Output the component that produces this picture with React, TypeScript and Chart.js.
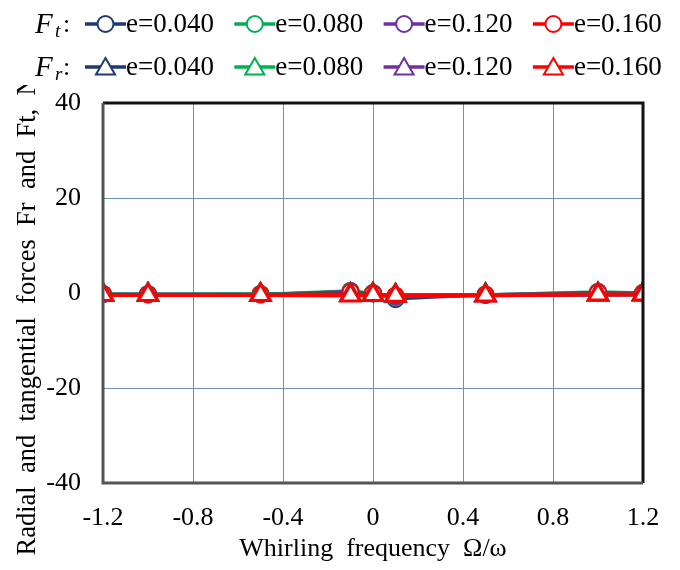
import React, { useEffect, useRef } from "react";
import { Chart, registerables } from "chart.js";

Chart.register(...registerables);

const xValues = [-1.2, -1, -0.5, -0.1, 0, 0.1, 0.5, 1, 1.2];
const eLabels = ["e=0.040", "e=0.080", "e=0.120", "e=0.160"];
const colors = ["#1f3a73", "#00b050", "#7030a0", "#ff0000"];

const ft040 = [-0.2, -0.2, -0.2, 0.3, 0.0, -1.3, -0.4, 0.1, 0.0];
const ft080 = [-0.2, -0.2, -0.2, 0.5, 0.0, -0.9, -0.3, 0.3, 0.1];
const ft120 = [-0.2, -0.3, -0.3, 0.4, -0.1, -0.7, -0.3, 0.2, 0.0];
const ft160 = [-0.2, -0.3, -0.3, 0.2, -0.1, -0.5, -0.4, 0.1, -0.1];
const fr040 = [-0.3, -0.3, -0.3, -0.3, -0.3, -0.5, -0.4, -0.3, -0.2];
const fr080 = [-0.3, -0.4, -0.3, -0.4, -0.3, -0.5, -0.4, -0.3, -0.3];
const fr120 = [-0.4, -0.4, -0.4, -0.4, -0.4, -0.6, -0.5, -0.3, -0.3];
const fr160 = [-0.4, -0.4, -0.4, -0.5, -0.4, -0.6, -0.5, -0.3, -0.3];

const ftSeries = [ft040, ft080, ft120, ft160];
const frSeries = [fr040, fr080, fr120, fr160];

const yTicks = [-40, -20, 0, 20, 40];
const xTicks = [-1.2, -0.8, -0.4, 0, 0.4, 0.8, 1.2];

const xTitle = "Whirling  frequency  Ω/ω";
const yTitle = "Radial  and  tangential  forces  Fr  and  Ft,  N";

const SERIF = '"Liberation Serif", "Times New Roman", serif';

function drawMarker(ctx: CanvasRenderingContext2D, style: string, x: number, y: number, r: number, color: string, bw: number) {
  ctx.save();
  ctx.beginPath();
  if (style === "circle") {
    ctx.arc(x, y, r, 0, Math.PI * 2);
  } else {
    const s = Math.sin(Math.PI / 3) * r;
    ctx.moveTo(x, y - r);
    ctx.lineTo(x + s, y + r / 2);
    ctx.lineTo(x - s, y + r / 2);
    ctx.closePath();
  }
  ctx.fillStyle = "#ffffff";
  ctx.fill();
  ctx.lineWidth = bw;
  ctx.strokeStyle = color;
  ctx.stroke();
  ctx.restore();
}

const customPlugin = {
  id: "custom",
  afterDraw(chart: any) {
    const ctx: CanvasRenderingContext2D = chart.ctx;
    const a = chart.chartArea;
    ctx.save();
    // plot border
    ctx.lineWidth = 3;
    ctx.strokeStyle = "#111111";
    ctx.beginPath();
    ctx.moveTo(a.left, a.top);
    ctx.lineTo(a.right, a.top);
    ctx.lineTo(a.right, a.bottom);
    ctx.stroke();
    ctx.strokeStyle = "#555555";
    ctx.beginPath();
    ctx.moveTo(a.left, a.top);
    ctx.lineTo(a.left, a.bottom);
    ctx.lineTo(a.right, a.bottom);
    ctx.stroke();

    // axis titles
    ctx.fillStyle = "#000000";
    ctx.font = `26px ${SERIF}`;
    ctx.textAlign = "center";
    ctx.textBaseline = "middle";
    ctx.fillText(xTitle, (a.left + a.right) / 2, 549);
    ctx.save();
    ctx.font = `26.5px ${SERIF}`;
    ctx.translate(28, 316);
    ctx.rotate(-Math.PI / 2);
    ctx.fillText(yTitle, 0, 0);
    ctx.restore();

    // legend area background (covers the end of the y title)
    ctx.fillStyle = "#ffffff";
    ctx.fillRect(0, 0, 100, 85);

    // legend
    const rows = [
      { main: "F", sub: "t", y: 24, style: "circle", r: 8 },
      { main: "F", sub: "r", y: 67, style: "triangle", r: 11 },
    ];
    const ds = chart.data.datasets;
    rows.forEach((row, ri) => {
      ctx.textAlign = "left";
      ctx.textBaseline = "alphabetic";
      ctx.font = `italic 29px ${SERIF}`;
      ctx.fillStyle = "#000";
      ctx.fillText(row.main, 35, row.y + 9);
      ctx.font = `italic 19px ${SERIF}`;
      ctx.fillText(row.sub, 55, row.y + 13);
      ctx.font = `26px ${SERIF}`;
      ctx.fillText(":", 63, row.y + 8);
      for (let i = 0; i < 4; i++) {
        const d = ds[ri * 4 + i];
        const x0 = 85 + i * 149.3;
        ctx.strokeStyle = d.borderColor;
        ctx.lineWidth = 3.5;
        ctx.beginPath();
        ctx.moveTo(x0, row.y);
        ctx.lineTo(x0 + 41, row.y);
        ctx.stroke();
        drawMarker(ctx, row.style, x0 + 20.5, row.y + (row.style === "triangle" ? 2 : 0), row.r, d.borderColor, 2);
        ctx.fillStyle = "#000";
        ctx.font = `27px ${SERIF}`;
        ctx.textBaseline = "middle";
        ctx.fillText(d.label, x0 + 41, row.y + 1);
        ctx.textBaseline = "alphabetic";
      }
    });
    ctx.restore();
  },
};

export default function App() {
  const ref = useRef<HTMLCanvasElement>(null);
  useEffect(() => {
    document.body.style.margin = "0";
    const datasets: any[] = [];
    ftSeries.forEach((vals, i) => {
      datasets.push({
        label: eLabels[i],
        data: xValues.map((x, k) => ({ x, y: vals[k] })),
        borderColor: colors[i],
        backgroundColor: "#ffffff",
        borderWidth: 2.5,
        pointStyle: "circle",
        pointRadius: 8,
        pointBorderWidth: 2,
        pointBackgroundColor: "#ffffff",
        pointBorderColor: colors[i],
      });
    });
    frSeries.forEach((vals, i) => {
      datasets.push({
        label: eLabels[i],
        data: xValues.map((x, k) => ({ x, y: vals[k] })),
        borderColor: colors[i],
        backgroundColor: "#ffffff",
        borderWidth: 4,
        pointStyle: "triangle",
        pointRadius: 11,
        pointBorderWidth: 3,
        pointBackgroundColor: "#ffffff",
        pointBorderColor: colors[i],
      });
    });
    // later datasets drawn on top (red F_r last)
    datasets.forEach((d, i) => {
      d.order = datasets.length - 1 - i;
    });
    const chart = new Chart(ref.current!, {
      type: "line",
      data: { datasets },
      options: {
        animation: false,
        responsive: false,
        layout: { padding: { top: 103, right: 37, left: 0, bottom: 0 } },
        plugins: { legend: { display: false }, tooltip: { enabled: false } },
        scales: {
          x: {
            type: "linear",
            min: -1.2,
            max: 1.2,
            afterBuildTicks: (s: any) => {
              s.ticks = xTicks.map((v) => ({ value: v }));
            },
            afterFit: (s: any) => {
              s.height = 87;
            },
            grid: { color: "#6f8fb3", lineWidth: 1, drawTicks: false },
            border: { display: false },
            ticks: {
              color: "#000",
              font: { family: SERIF, size: 26 },
              padding: 20,
              maxRotation: 0,
              autoSkip: false,
              callback: (v: any) => (Math.abs(v) < 1e-9 ? "0" : Number(v).toFixed(1)),
            },
          },
          y: {
            min: -40,
            max: 40,
            afterBuildTicks: (s: any) => {
              s.ticks = yTicks.map((v) => ({ value: v }));
            },
            afterFit: (s: any) => {
              s.width = 103;
            },
            grid: { color: "#6f8fb3", lineWidth: 1, drawTicks: false },
            border: { display: false },
            ticks: {
              color: "#000",
              font: { family: SERIF, size: 26 },
              padding: 22,
              callback: (v: any) => String(v),
            },
          },
        },
      },
      plugins: [customPlugin],
    });
    return () => chart.destroy();
  }, []);
  return (
    <div style={{ position: "absolute", left: 0, top: 0, width: 680, height: 570, background: "#fff" }}>
      <canvas ref={ref} width={680} height={570} style={{ width: 680, height: 570, display: "block" }} />
    </div>
  );
}
